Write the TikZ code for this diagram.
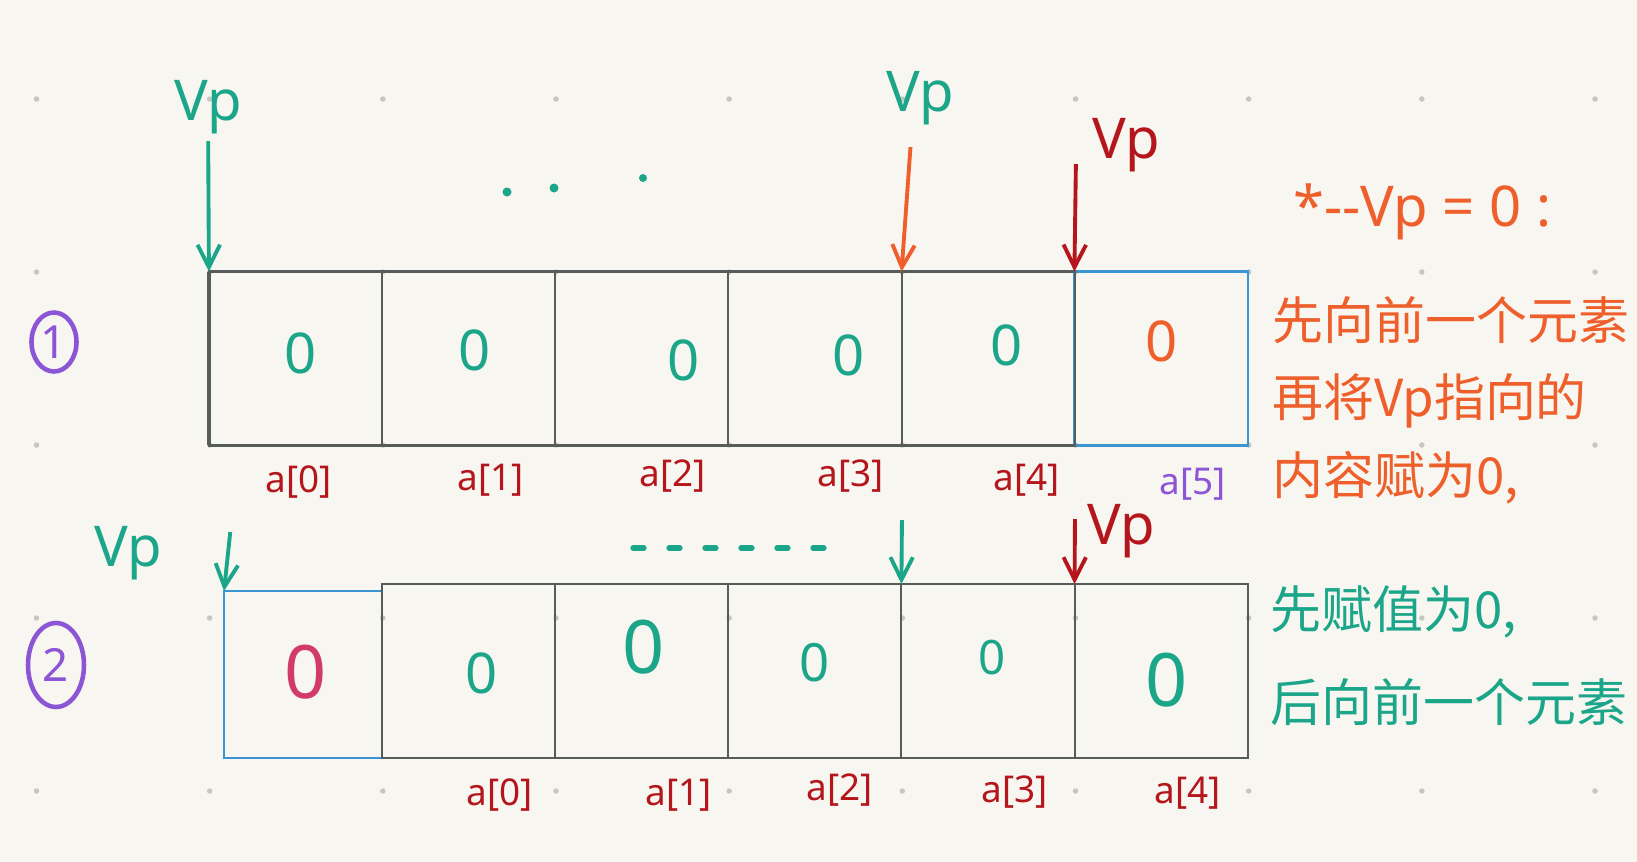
\documentclass[tikz,border=0pt]{standalone}
\usepackage{fontspec}
\setmainfont{Noto Sans}
\newfontfamily\cjk{Noto Sans CJK SC}
\usepackage{tikz}
\usetikzlibrary{arrows.meta,positioning,shapes}

\definecolor{paper}{HTML}{F8F6F1}
\definecolor{gridgray}{HTML}{C8C6C1}
\definecolor{boxgray}{HTML}{565C5A}
\definecolor{inkteal}{HTML}{1BA68A}
\definecolor{inkorange}{HTML}{EE5F2B}
\definecolor{inkred}{HTML}{B4161C}
\definecolor{inkpurple}{HTML}{8B55D6}
\definecolor{inkblue}{HTML}{3B95D3}
\definecolor{inkpink}{HTML}{D23A6B}

\begin{document}
\begin{tikzpicture}[x=0.02cm, y=-0.02cm, >={Straight Barb[length=4.5mm,width=4.5mm]},
  cell/.style={draw=boxgray, line width=1.2pt, minimum width=3.464cm, minimum height=3.48cm, inner sep=0pt, outer sep=0pt},
  zero/.style={font=\fontsize{32}{32}\selectfont, text=inkteal, inner sep=0pt},
  idx/.style={font=\fontsize{21}{21}\selectfont, text=inkred, inner sep=0pt},
  vp/.style={font=\fontsize{32}{32}\selectfont, inner sep=0pt},
  ptr/.style={->, line width=2.2pt, shorten <=4pt},
  num/.style={draw=inkpurple, text=inkpurple, ellipse, line width=2.6pt, inner sep=0pt, font=\fontsize{26}{26}\selectfont},
  note/.style={font=\cjk\fontsize{29}{44}\selectfont, align=left, inner sep=0pt, anchor=north west}]
    % paper and dot grid
    \fill[paper] (0,0) rectangle (1637,862);
    \useasboundingbox (0,0) rectangle (1637,862);
    \draw[gridgray, line width=0.11cm, line cap=round, dash pattern=on 0pt off 3.464cm]
        (36.5,99) -- (1637,99) (36.5,272) -- (1637,272) (36.5,445) -- (1637,445)
        (36.5,618) -- (1637,618) (36.5,791) -- (1637,791);

    % case 1: *--vp = 0
    \node[num, minimum width=0.9cm, minimum height=1.18cm] (n1) at (54,342) {1};
    \node[cell, draw=inkblue] (c5) at (1161,358.5) {};
    \node[cell] (c0) at (295.5,358.5) {};
    \node[cell, right=0pt of c0] (c1) {};
    \node[cell, right=0pt of c1] (c2) {};
    \node[cell, right=0pt of c2] (c3) {};
    \node[cell, right=0pt of c3] (c4) {};
    \draw[boxgray, line width=2.2pt] (c0.north west) -- (c0.south west);

    \node[zero] (z0) at (301,353) {0};
    \node[zero] (z1) at (475,350) {0};
    \node[zero] (z2) at (684,360) {0};
    \node[zero] (z3) at (849,355) {0};
    \node[zero] (z4) at (1007,345) {0};
    \node[zero, text=inkorange] (z5) at (1162,341) {0};

    \node[idx] (i0) at (299,482) {a[0]};
    \node[idx] (i1) at (491,480) {a[1]};
    \node[idx] (i2) at (673,476) {a[2]};
    \node[idx] (i3) at (851,476) {a[3]};
    \node[idx] (i4) at (1027,480) {a[4]};
    \node[idx, text=inkpurple] (i5) at (1193,484) {a[5]};

    \node[vp, text=inkteal] (vp1) at (208,107) {Vp};
    \node[vp, text=inkteal] (vp2) at (920,98) {Vp};
    \node[vp, text=inkred] (vp3) at (1126,145) {Vp};
    \coordinate (o1) at (911,140);
    \coordinate (r1) at (1076,157);
    \draw[ptr, inkteal] (vp1) -- (c0.north west);
    \draw[ptr, inkorange] (o1) -- (c4.north west);
    \draw[ptr, inkred] (r1) -- (c5.north west);
    \fill[inkteal] (507,192) circle (0.09cm) (554,188) circle (0.09cm) (643,178) circle (0.08cm);

    % case 2: *vp-- = 0
    \node[num, minimum width=1.12cm, minimum height=1.68cm] (n2) at (56,665) {2};
    \node[cell, draw=inkblue, minimum width=3.16cm, minimum height=3.34cm] (b0) at (303,674.5) {};
    \node[cell] (d0) at (468.5,671) {};
    \node[cell, right=0pt of d0] (d1) {};
    \node[cell, right=0pt of d1] (d2) {};
    \node[cell, right=0pt of d2] (d3) {};
    \node[cell, right=0pt of d3] (d4) {};

    \node[zero, text=inkpink, font=\fontsize{42}{42}\selectfont] (y0) at (306,672) {0};
    \node[zero] (y1) at (482,673) {0};
    \node[zero, font=\fontsize{42}{42}\selectfont] (y2) at (644,647) {0};
    \node[zero, font=\fontsize{30}{30}\selectfont] (y3) at (815,663) {0};
    \node[zero, font=\fontsize{27}{27}\selectfont] (y4) at (992,658) {0};
    \node[zero, font=\fontsize{42}{42}\selectfont] (y5) at (1167,680) {0};

    \node[idx] (j0) at (500,795) {a[0]};
    \node[idx] (j1) at (679,795) {a[1]};
    \node[idx] (j2) at (840,790) {a[2]};
    \node[idx] (j3) at (1015,792) {a[3]};
    \node[idx] (j4) at (1188,793) {a[4]};

    \node[vp, text=inkteal] (vp4) at (128,553) {Vp};
    \node[vp, text=inkred] (vp5) at (1121,531) {Vp};
    \coordinate (g2) at (231,525);
    \coordinate (g3) at (902,513);
    \coordinate (r2) at (1075,512);
    \draw[ptr, inkteal] (g2) -- (b0.north west);
    \draw[ptr, inkteal] (g3) -- (d3.north west);
    \draw[ptr, inkred] (r2) -- (d4.north west);
    \draw[inkteal, line width=3pt, line cap=round, dash pattern=on 0.22cm off 0.5cm] (633,548) -- (843,548);

    % notes
    \node[font=\fontsize{32}{32}\selectfont, text=inkorange, anchor=base west, inner sep=0pt] (code) at (1293,226) {*-{}-Vp = 0 :};
    \node[note, text=inkorange] (step1) at (1272,296) {先向前一个元素\\再将Vp指向的\\内容赋为0,};
    \node[note, text=inkteal, font=\cjk\fontsize{29}{53}\selectfont] (step2) at (1270,585) {先赋值为0,\\后向前一个元素};
\end{tikzpicture}
\end{document}
